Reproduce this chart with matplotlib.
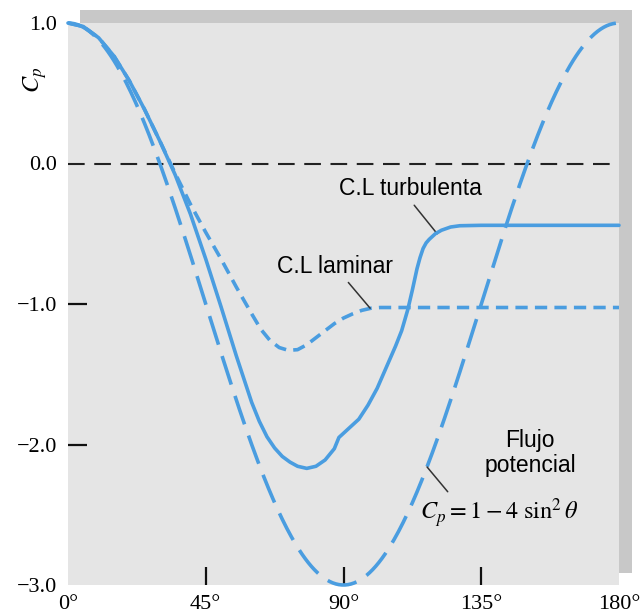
import numpy as np
import matplotlib
matplotlib.use("Agg")
import matplotlib.pyplot as plt
from matplotlib.patches import Rectangle

# Pressure coefficient around a circular cylinder
theta_turb = [0, 5, 10, 15, 20, 25, 30, 35, 40, 45, 50, 55, 60, 62.5, 65, 67.5, 70,
              72.5, 75, 78, 81, 84, 87, 88.5, 91, 95, 98, 101, 104, 107, 109, 111,
              112.5, 114, 115, 116, 117, 118, 120, 122, 125, 128, 135, 150, 165, 180]
cp_turb = [1.0, 0.975, 0.895, 0.765, 0.59, 0.385, 0.16, -0.08, -0.36, -0.68, -1.02,
           -1.37, -1.70, -1.835, -1.945, -2.025, -2.085, -2.125, -2.155, -2.17,
           -2.155, -2.11, -2.03, -1.95, -1.90, -1.82, -1.72, -1.60, -1.45, -1.30,
           -1.19, -1.04, -0.90, -0.75, -0.67, -0.605, -0.565, -0.54, -0.50, -0.475,
           -0.452, -0.443, -0.44, -0.44, -0.44, -0.44]

theta_lam = [0, 5, 10, 15, 20, 25, 30, 35, 40, 45, 50, 55, 60, 63, 66, 69, 72, 75,
             78, 81, 84, 87, 90, 93, 96, 99, 102, 120, 150, 180]
cp_lam = [1.0, 0.975, 0.895, 0.765, 0.59, 0.385, 0.16, -0.07, -0.29, -0.49, -0.68,
          -0.88, -1.07, -1.18, -1.26, -1.31, -1.33, -1.325, -1.29, -1.24, -1.19,
          -1.14, -1.10, -1.07, -1.045, -1.03, -1.025, -1.025, -1.025, -1.025]

# Potential flow: Cp = 1 - 4 sin^2(theta)
theta_pot = np.linspace(0, 180, 361)
cp_pot = 1 - 4 * np.sin(np.radians(theta_pot)) ** 2

xticks = [0, 45, 90, 135, 180]
xticklabels = ["0°", "45°", "90°", "135°", "180°"]
yticks = [-3.0, -2.0, -1.0, 0.0, 1.0]
yticklabels = ["\u22123.0", "\u22122.0", "\u22121.0", "0.0", "1.0"]

plt.rcParams["mathtext.fontset"] = "stix"
W, H = 642, 613
fig = plt.figure(figsize=(W / 100, H / 100), dpi=100)

# drop shadow behind the panel
fig.patches.append(Rectangle((80 / W, (H - 573) / H), 552 / W, 563 / H,
                             transform=fig.transFigure, facecolor="#c8c8c8",
                             edgecolor="none", zorder=0))

ax = fig.add_axes([68 / W, (H - 585) / H, 551 / W, 562 / H])
ax.set_zorder(2)
ax.set_facecolor("#e5e5e5")
for s in ax.spines.values():
    s.set_visible(False)
ax.set_xlim(0, 180)
ax.set_ylim(-3.0, 1.0)

blue = "#4a9de0"
ax.axhline(0, color="#222222", lw=1.5, dashes=(8, 4.6), zorder=1)
ax.plot(theta_pot, cp_pot, color=blue, lw=2.6, dashes=(8.3, 3.3),
        solid_capstyle="butt", dash_capstyle="butt", clip_on=False, zorder=3)
ax.plot(theta_lam, cp_lam, color=blue, lw=2.6, dashes=(3.4, 2.0),
        dash_capstyle="butt", dash_joinstyle="round", clip_on=False, zorder=3)
ax.plot(theta_turb, cp_turb, color=blue, lw=2.6, solid_capstyle="round",
        solid_joinstyle="round", clip_on=False, zorder=4)

ax.set_xticks(xticks)
ax.set_xticklabels(xticklabels, family="Liberation Serif", fontsize=16)
ax.set_yticks(yticks)
ax.set_yticklabels(yticklabels, family="Liberation Serif", fontsize=16)
ax.tick_params(axis="x", direction="in", length=13, width=1.6, pad=7, color="#111111")
ax.tick_params(axis="y", direction="in", length=14, width=1.6, pad=8, color="#111111")
for t, v in zip(ax.xaxis.get_major_ticks(), ax.get_xticks()):
    if v in (0, 180):
        t.tick1line.set_visible(False)
for t, v in zip(ax.yaxis.get_major_ticks(), ax.get_yticks()):
    if v in (-3.0, 0.0, 1.0):
        t.tick1line.set_visible(False)

fig.text(35 / W, (H - 80) / H, r"$C_p$", rotation=90, fontsize=17.5,
         ha="center", va="center")

sans = "Liberation Sans"
lead = dict(arrowstyle="-", color="#333333", lw=1.1, shrinkA=2, shrinkB=0)
ax.annotate("C.L turbulenta", xy=(120.6, -0.50), xytext=(111.8, -0.18),
            ha="center", va="center", family=sans, fontsize=16.5,
            arrowprops=dict(lead, relpos=(0.5, 0.0)))
ax.annotate("C.L laminar", xy=(98.7, -1.03), xytext=(87.2, -0.73),
            ha="center", va="center", family=sans, fontsize=16.5,
            arrowprops=dict(lead, relpos=(0.58, 0.0)))
ax.text(151.0, -2.06, "Flujo\npotencial", ha="center", va="center",
        family=sans, fontsize=16.5, linespacing=1.15)
ax.annotate(r"$C_p = 1 - 4\ \sin^2\theta$", xy=(117.3, -2.16), xytext=(140.9, -2.49),
            ha="center", va="center", fontsize=17.5,
            arrowprops=dict(lead, relpos=(0.2, 1.0)))

fig.savefig("out.png", dpi=100)
